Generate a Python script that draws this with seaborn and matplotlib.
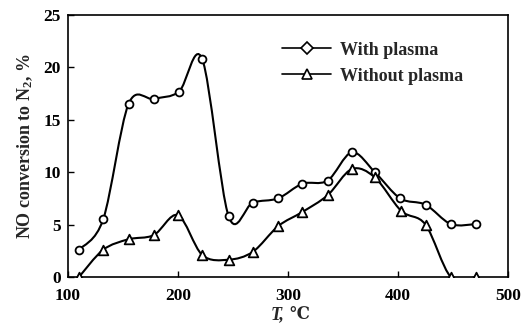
import numpy as np
import pandas as pd
import matplotlib
matplotlib.use("Agg")
import matplotlib.pyplot as plt
from matplotlib.path import Path
from matplotlib.patches import PathPatch
from matplotlib.lines import Line2D
import seaborn as sns

# Data
temp_with = [110, 132, 155, 178, 201, 222, 246, 268, 291, 313, 336, 358, 379, 402, 425, 448, 471]
conv_with = [2.6, 5.5, 16.5, 17.0, 17.7, 20.8, 5.8, 7.1, 7.5, 8.9, 9.2, 11.9, 10.0, 7.5, 6.9, 5.05, 5.05]
temp_without = [110, 132, 155, 178, 200, 222, 246, 268, 291, 313, 336, 358, 379, 403, 425, 448, 471]
conv_without = [0.0, 2.6, 3.6, 4.0, 5.9, 2.1, 1.65, 2.4, 4.85, 6.2, 7.8, 10.3, 9.5, 6.3, 5.0, 0.0, 0.0]
labels = ["With plasma", "Without plasma"]
x_ticks = [100, 200, 300, 400, 500]
y_ticks = [0, 5, 10, 15, 20, 25]

sns.set_theme(style="white")
plt.rcParams['font.family'] = ['Liberation Serif', 'DejaVu Serif']
plt.rcParams['mathtext.fontset'] = 'custom'
plt.rcParams['mathtext.it'] = 'Liberation Serif:italic:bold'
plt.rcParams['mathtext.rm'] = 'Liberation Serif:bold'

fig = plt.figure(figsize=(5.24, 3.28), dpi=100)
ax = fig.add_axes([68/524, 51/328, 440/524, 262/328])


def smooth_path(xs, ys, t=0.16):
    xs = np.asarray(xs, float)
    ys = np.asarray(ys, float)
    n = len(xs)
    verts = [(xs[0], ys[0])]
    codes = [Path.MOVETO]
    for i in range(n - 1):
        p0 = np.array([xs[max(i - 1, 0)], ys[max(i - 1, 0)]])
        p1 = np.array([xs[i], ys[i]])
        p2 = np.array([xs[i + 1], ys[i + 1]])
        p3 = np.array([xs[min(i + 2, n - 1)], ys[min(i + 2, n - 1)]])
        c1 = p1 + (p2 - p0) * t
        c2 = p2 - (p3 - p1) * t
        verts += [tuple(c1), tuple(c2), tuple(p2)]
        codes += [Path.CURVE4] * 3
    return Path(verts, codes)


df_with = pd.DataFrame({"T": temp_with, "conv": conv_with})
df_without = pd.DataFrame({"T": temp_without, "conv": conv_without})

for df in (df_with, df_without):
    ax.add_patch(PathPatch(smooth_path(df["T"], df["conv"]), facecolor="none",
                           edgecolor="black", lw=1.5, zorder=2))

sns.scatterplot(data=df_with, x="T", y="conv", marker="o", s=32, facecolor="white",
                edgecolor="black", linewidth=1.3, ax=ax, zorder=3)
sns.scatterplot(data=df_without, x="T", y="conv", marker="^", s=48, facecolor="white",
                edgecolor="black", linewidth=1.3, ax=ax, zorder=3)

ax.set_xlim(100, 500)
ax.set_ylim(0, 25)
ax.set_xticks(x_ticks)
ax.set_yticks(y_ticks)
ax.tick_params(axis="both", direction="in", length=4, width=1, labelsize=12.5, colors="black",
               top=False, right=False, bottom=True, left=True)
ax.tick_params(axis="x", pad=8)
ax.tick_params(axis="y", pad=5)
for lab in ax.get_xticklabels() + ax.get_yticklabels():
    lab.set_fontweight("bold")
for sp in ax.spines.values():
    sp.set_color("black")
    sp.set_linewidth(1.2)

ax.set_xlabel("")
ax.set_ylabel(r"NO conversion to N$_2$, %", fontsize=13, fontweight="bold", labelpad=6)

t1 = ax.text(0.46, -0.112, "T,", transform=ax.transAxes, ha="left", va="top",
             fontsize=13, fontweight="bold", fontstyle="italic", family=["Liberation Serif"])
ax.annotate("℃", xy=(1, 0), xycoords=t1, xytext=(4, 0), textcoords="offset points",
            ha="left", va="bottom", fontsize=12, fontweight="bold", family=["DejaVu Serif"])

handles = [
    Line2D([], [], color="black", lw=1.2, marker="D", markersize=6, markerfacecolor="white",
           markeredgecolor="black", markeredgewidth=1.2),
    Line2D([], [], color="black", lw=1.2, marker="^", markersize=7, markerfacecolor="white",
           markeredgecolor="black", markeredgewidth=1.2),
]
ax.legend(handles, labels, loc="upper left", bbox_to_anchor=(0.45, 0.96), frameon=False,
          handlelength=2.7, handletextpad=0.5, labelspacing=0.5,
          prop={"family": ["Liberation Serif"], "weight": "bold", "size": 13})

fig.savefig("out.png", dpi=100)
